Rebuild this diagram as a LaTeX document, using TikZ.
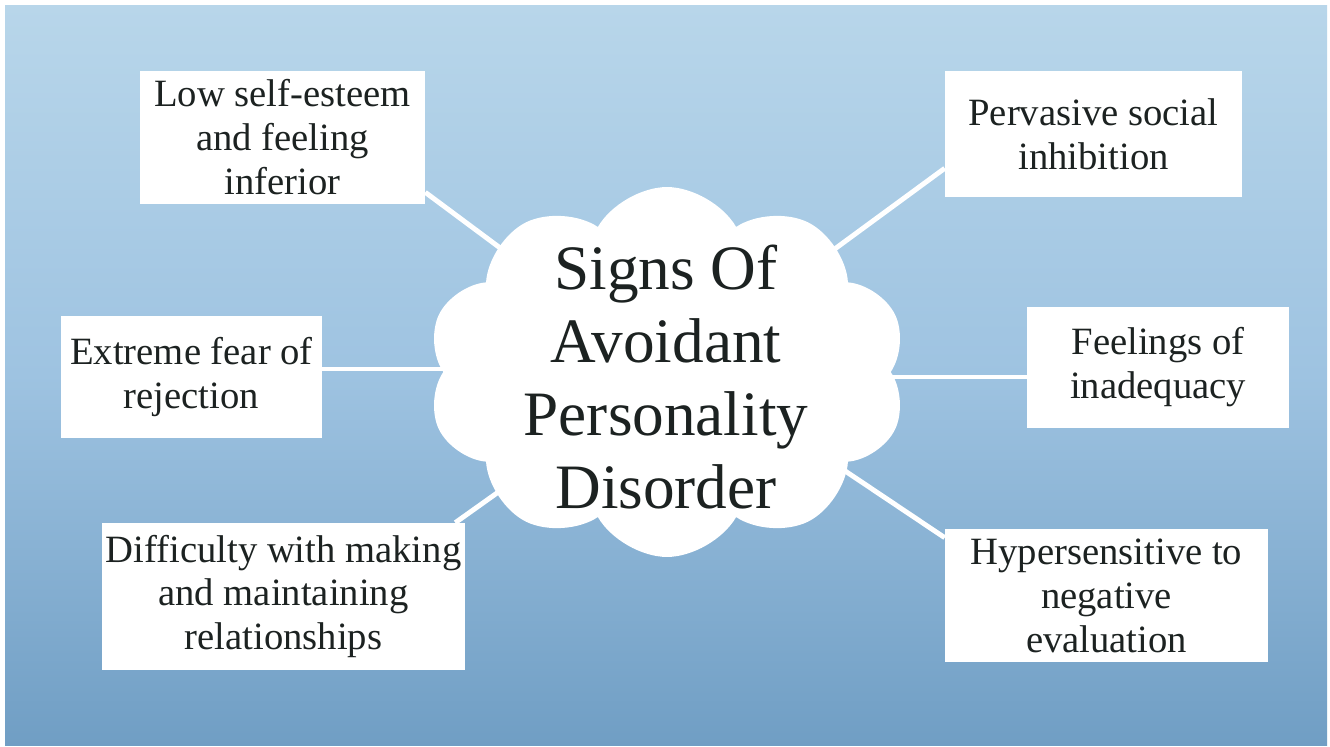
\documentclass[tikz,border=0pt]{standalone}
\usepackage{fontspec}
\setmainfont{Liberation Serif}
\usetikzlibrary{shapes.symbols, backgrounds, positioning}

\definecolor{skytop}{RGB}{184,214,234}
\definecolor{skymid}{RGB}{158,195,225}
\definecolor{skybot}{RGB}{112,158,196}
\definecolor{inkdark}{RGB}{28,34,33}

\tikzset{
  signbox/.style={fill=white, align=center, text=inkdark, inner sep=0.5pt,
    font=\fontsize{22}{25}\selectfont},
  hubcloud/.style={cloud, cloud puffs=10, cloud puff arc=120, fill=white,
    draw=none, minimum width=9.6cm, minimum height=7.4cm},
  hubtitle/.style={align=center, text=inkdark, font=\fontsize{36}{41.5}\selectfont},
  link/.style={draw=white, line width=2.8pt}
}

\begin{document}
\begin{tikzpicture}[x=0.02cm, y=-0.02cm]
    % sfondo
    \begin{scope}[on background layer]
        \fill[white] (0,0) rectangle (1330,747);
        \shade[top color=skytop, bottom color=skybot, middle color=skymid] (5,5) rectangle (1327,745);
    \end{scope}
    \useasboundingbox (0,0) rectangle (1330,747);

    % nuvola centrale
    \node[hubcloud] (cloud) at (667,372) {};
    \node[hubtitle] (title) at (666,377) {Signs Of\\Avoidant\\Personality\\Disorder};

    % segni a sinistra
    \node[signbox, minimum width=5.7cm, minimum height=2.66cm] (lowesteem) at (282.5,137.5) {Low self-esteem\\and feeling\\inferior};
    \node[signbox, minimum width=5.22cm, minimum height=2.44cm] (rejection) at (191.5,377) {Extreme fear of\\rejection};
    \node[signbox, minimum width=7.26cm, minimum height=2.94cm] (relations) at (283.5,596.5) {Difficulty with making\\and maintaining\\relationships};

    % segni a destra
    \node[signbox, minimum width=5.94cm, minimum height=2.52cm] (inhibition) at (1093.5,134) {Pervasive social\\inhibition};
    \node[signbox, minimum width=5.24cm, minimum height=2.42cm] (inadequacy) at (1158,367.5) {Feelings of\\inadequacy};
    \node[signbox, minimum width=6.46cm, minimum height=2.66cm] (evaluation) at (1106.5,595.5) {Hypersensitive to\\negative\\evaluation};

    % collegamenti dietro la nuvola
    \begin{scope}[on background layer]
        \draw[link] ([yshift=0.24cm]lowesteem.south east) -- (cloud.center);
        \draw[link] ([yshift=0.16cm]rejection.east) -- ([yshift=0.16cm]rejection.east -| cloud.center);
        \draw[link] ([xshift=-0.2cm]relations.north east) -- (cloud.center);
        \draw[link] ([yshift=0.58cm]inhibition.south west) -- (cloud.center);
        \draw[link] ([yshift=-0.19cm]inadequacy.west) -- ([yshift=-0.19cm]inadequacy.west -| cloud.center);
        \draw[link] ([yshift=-0.18cm]evaluation.north west) -- ([xshift=2.4cm,yshift=-1.2cm]cloud.center);
    \end{scope}
\end{tikzpicture}
\end{document}
